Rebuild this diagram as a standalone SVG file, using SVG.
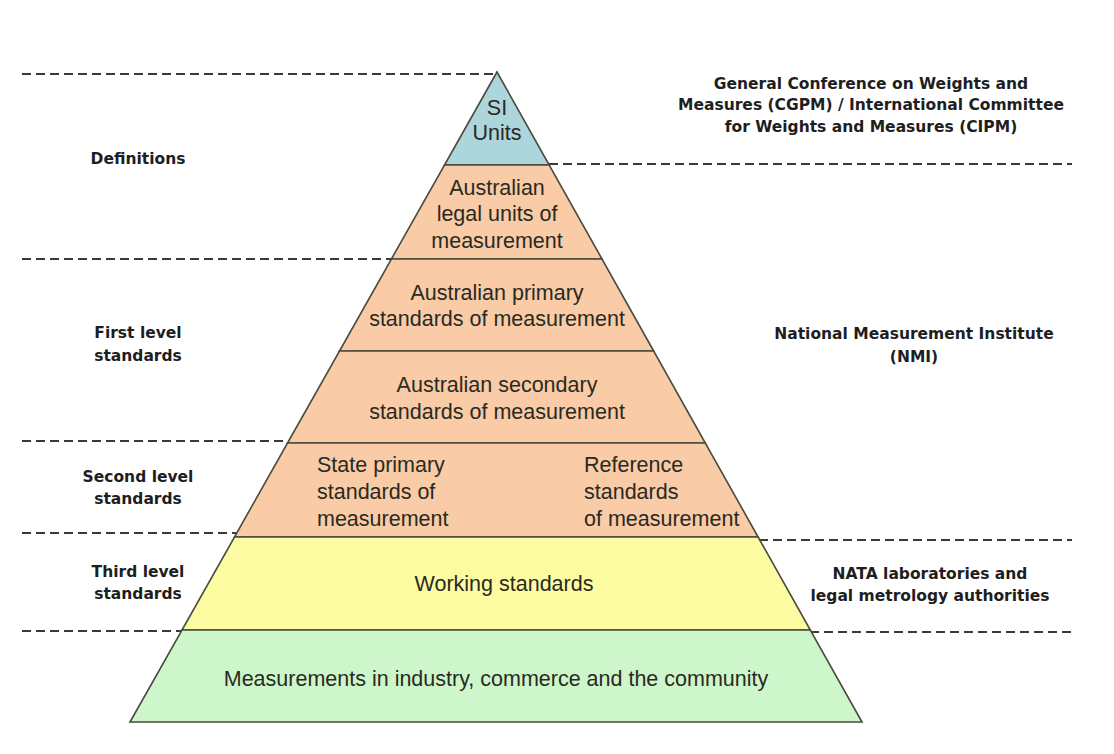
<svg xmlns="http://www.w3.org/2000/svg" width="1114" height="754" viewBox="0 0 1114 754">
  <style>
    .tier { stroke: #4a4a3e; stroke-width: 1.6; stroke-linejoin: miter; }
    .blue { fill: #acd5dc; }
    .orange { fill: #f9cba6; }
    .yellow { fill: #fdfca2; }
    .green { fill: #cdf7cb; }
    .in { font-family: "Liberation Sans", Arial, sans-serif; font-size: 21.5px; fill: #2a2a22; }
    .c { text-anchor: middle; }
    .side { font-family: "DejaVu Sans", Verdana, sans-serif; font-size: 15.5px; font-weight: bold; fill: #1e1e1e; text-anchor: middle; }
    .dash { stroke: #3a3a3a; stroke-width: 2; stroke-dasharray: 9 5; fill: none; }
  </style>
  <rect width="1114" height="754" fill="#ffffff"/>

  <!-- level separators -->
  <g id="connectors">
    <line class="dash" x1="22" y1="74" x2="497" y2="74"/>
    <line class="dash" x1="549" y1="164" x2="1072" y2="164"/>
    <line class="dash" x1="22" y1="259" x2="391" y2="259"/>
    <line class="dash" x1="22" y1="441" x2="288" y2="441"/>
    <line class="dash" x1="22" y1="533" x2="236" y2="533"/>
    <line class="dash" x1="759" y1="540" x2="1072" y2="540"/>
    <line class="dash" x1="22" y1="631" x2="182" y2="631"/>
    <line class="dash" x1="810" y1="632" x2="1072" y2="632"/>
  </g>

  <!-- pyramid tiers -->
  <g id="si-units">
    <polygon class="tier blue" points="497,72 549.2,165 444.5,165"/>
    <text class="in c" x="497" y="115">SI</text>
    <text class="in c" x="497" y="140">Units</text>
  </g>
  <g id="legal-units">
    <polygon class="tier orange" points="444.5,165 549.2,165 602,259 391.4,259"/>
    <text class="in c" x="497" y="195">Australian</text>
    <text class="in c" x="497" y="221">legal units of</text>
    <text class="in c" x="497" y="248">measurement</text>
  </g>
  <g id="primary-standards">
    <polygon class="tier orange" points="391.4,259 602,259 653.7,351 339.5,351"/>
    <text class="in c" x="497" y="300">Australian primary</text>
    <text class="in c" x="497" y="326">standards of measurement</text>
  </g>
  <g id="secondary-standards">
    <polygon class="tier orange" points="339.5,351 653.7,351 705.3,443 287.5,443"/>
    <text class="in c" x="497" y="392">Australian secondary</text>
    <text class="in c" x="497" y="419">standards of measurement</text>
  </g>
  <g id="state-reference-standards">
    <polygon class="tier orange" points="287.5,443 705.3,443 758.1,537 234.5,537"/>
    <text class="in" x="317" y="472">State primary</text>
    <text class="in" x="317" y="499">standards of</text>
    <text class="in" x="317" y="526">measurement</text>
    <text class="in" x="584" y="472">Reference</text>
    <text class="in" x="584" y="499">standards</text>
    <text class="in" x="584" y="526">of measurement</text>
  </g>
  <g id="working-standards">
    <polygon class="tier yellow" points="234.5,537 758.1,537 810.3,630 182,630"/>
    <text class="in c" x="504" y="591">Working standards</text>
  </g>
  <g id="measurements">
    <polygon class="tier green" points="182,630 810.3,630 862,722 130,722"/>
    <text class="in c" x="496" y="686">Measurements in industry, commerce and the community</text>
  </g>

  <!-- level names -->
  <g id="label-definitions">
    <text class="side" x="138" y="164">Definitions</text>
  </g>
  <g id="label-first-level">
    <text class="side" x="138" y="338">First level</text>
    <text class="side" x="138" y="361">standards</text>
  </g>
  <g id="label-second-level">
    <text class="side" x="138" y="482">Second level</text>
    <text class="side" x="138" y="504">standards</text>
  </g>
  <g id="label-third-level">
    <text class="side" x="138" y="577">Third level</text>
    <text class="side" x="138" y="599">standards</text>
  </g>

  <!-- responsible bodies -->
  <g id="body-cgpm">
    <text class="side" x="871" y="89">General Conference on Weights and</text>
    <text class="side" x="871" y="110">Measures (CGPM) / International Committee</text>
    <text class="side" x="871" y="132">for Weights and Measures (CIPM)</text>
  </g>
  <g id="body-nmi">
    <text class="side" x="914" y="339">National Measurement Institute</text>
    <text class="side" x="914" y="362">(NMI)</text>
  </g>
  <g id="body-nata">
    <text class="side" x="930" y="579">NATA laboratories and</text>
    <text class="side" x="930" y="601">legal metrology authorities</text>
  </g>
</svg>
